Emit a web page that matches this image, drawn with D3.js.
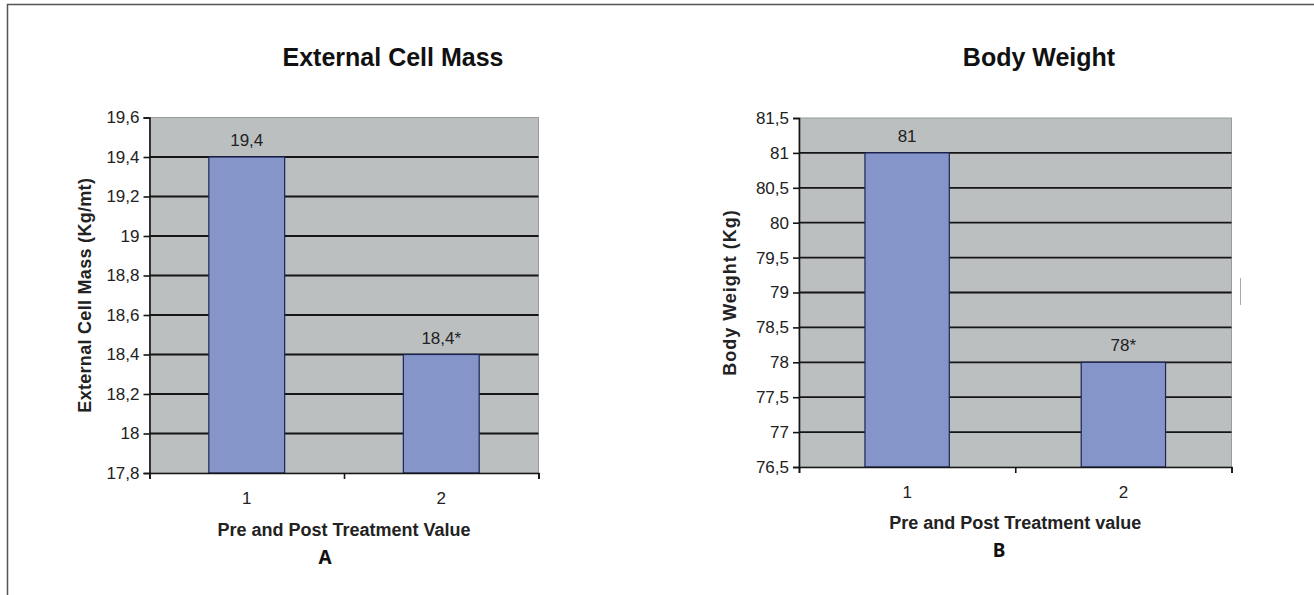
<!DOCTYPE html>
<html>
<head>
<meta charset="utf-8">
<script src="https://cdn.jsdelivr.net/npm/d3@7"></script>
<style>
    body { margin: 0; background: #fff; }
    svg text { font-family: "Liberation Sans", Arial, sans-serif; }
</style>
</head>
<body>
<div id="chart"></div>
<script>
    // Data
    const categories = ["1", "2"];

    const cellMassValues = [19.4, 18.4];
    const cellMassLabels = ["19,4", "18,4*"];
    const cellMassTicks = [17.8, 18, 18.2, 18.4, 18.6, 18.8, 19, 19.2, 19.4, 19.6];

    const weightValues = [81, 78];
    const weightLabels = ["81", "78*"];
    const weightTicks = [76.5, 77, 77.5, 78, 78.5, 79, 79.5, 80, 80.5, 81, 81.5];

    const width = 1314, height = 595;

    const svg = d3.select("#chart")
        .append("svg")
        .attr("width", width)
        .attr("height", height);

    // outer frame (left and top edges only)
    svg.append("path")
        .attr("d", "M7.5,595V4.5H1314")
        .attr("fill", "none")
        .attr("stroke", "#555")
        .attr("stroke-width", 1.5);

    // small stray mark at the right
    svg.append("line")
        .attr("x1", 1240.5).attr("x2", 1240.5)
        .attr("y1", 278).attr("y2", 305)
        .attr("stroke", "#aaa");

    // comma decimal separator
    const fmt = d => String(d).replace(".", ",");

    function drawChart(opt) {
        const g = svg.append("g");

        const y = d3.scaleLinear()
            .domain(d3.extent(opt.ticks))
            .range([opt.bottom, opt.top]);

        const x = d3.scaleBand()
            .domain(categories)
            .range([opt.left, opt.right])
            .paddingInner(0.61)
            .paddingOuter(0.305);

        // x tick positions at category boundaries
        const xEdge = d3.scaleLinear()
            .domain([0, categories.length])
            .range([opt.left, opt.right]);

        // plot background
        g.append("rect")
            .attr("x", opt.left)
            .attr("y", opt.top)
            .attr("width", opt.right - opt.left)
            .attr("height", opt.bottom - opt.top)
            .attr("fill", "#bbbfc0")
            .attr("stroke", "#9a9d9e")
            .attr("stroke-width", 1);

        // gridlines
        g.selectAll(".grid")
            .data(opt.ticks.slice(1, -1))
            .join("line")
            .attr("x1", opt.left)
            .attr("x2", opt.right)
            .attr("y1", d => y(d))
            .attr("y2", d => y(d))
            .attr("stroke", "#151515")
            .attr("stroke-width", 1.8);

        // bars
        g.selectAll(".bar")
            .data(opt.values)
            .join("rect")
            .attr("x", (d, i) => x(categories[i]))
            .attr("y", d => y(d))
            .attr("width", x.bandwidth())
            .attr("height", d => opt.bottom - y(d))
            .attr("fill", "#8595c9")
            .attr("stroke", "#1c2556")
            .attr("stroke-width", 1.2);

        // value labels
        g.selectAll(".val")
            .data(opt.values)
            .join("text")
            .attr("x", (d, i) => x(categories[i]) + x.bandwidth() / 2)
            .attr("y", d => y(d) - 11)
            .attr("text-anchor", "middle")
            .attr("font-size", 17)
            .attr("fill", "#222")
            .text((d, i) => opt.labels[i]);

        // y axis
        const yAxis = g.append("g")
            .attr("transform", "translate(" + opt.left + ",0)")
            .call(d3.axisLeft(y).tickValues(opt.ticks).tickFormat(fmt).tickSize(6).tickPadding(4));
        yAxis.selectAll("text").attr("font-size", 17).attr("fill", "#222");
        yAxis.selectAll("line, path").attr("stroke", "#151515").attr("stroke-width", 1.6);

        // x axis
        const xAxis = g.append("g")
            .attr("transform", "translate(0," + opt.bottom + ")")
            .call(d3.axisBottom(xEdge).tickValues(d3.range(categories.length + 1)).tickFormat("").tickSize(6).tickSizeOuter(6));
        xAxis.selectAll("line, path").attr("stroke", "#151515").attr("stroke-width", 1.6);

        g.selectAll(".cat")
            .data(categories)
            .join("text")
            .attr("x", d => x(d) + x.bandwidth() / 2)
            .attr("y", opt.bottom + 31)
            .attr("text-anchor", "middle")
            .attr("font-size", 17)
            .attr("fill", "#222")
            .text(d => d);

        const cx = (opt.left + opt.right) / 2;

        // chart title
        g.append("text")
            .attr("x", opt.titleX)
            .attr("y", 66)
            .attr("text-anchor", "middle")
            .attr("font-size", 25)
            .attr("font-weight", "bold")
            .attr("fill", "#111")
            .text(opt.title);

        // axis titles
        g.append("text")
            .attr("x", cx)
            .attr("y", opt.bottom + opt.xTitleGap)
            .attr("text-anchor", "middle")
            .attr("font-size", 18)
            .attr("font-weight", "bold")
            .attr("fill", "#222")
            .text(opt.xTitle);

        g.append("text")
            .attr("transform", "translate(" + opt.yTitleX + "," + (opt.top + opt.bottom) / 2 + ") rotate(-90)")
            .attr("text-anchor", "middle")
            .attr("font-size", 18)
            .attr("font-weight", "bold")
            .attr("letter-spacing", opt.yTitleSpacing)
            .attr("fill", "#222")
            .text(opt.yTitle);

        // panel letter
        g.append("text")
            .attr("x", opt.letterX)
            .attr("y", opt.bottom + opt.xTitleGap + 28)
            .attr("text-anchor", "middle")
            .attr("font-size", 19)
            .attr("font-weight", "bold")
            .style("font-family", "'Noto Sans', sans-serif")
            .attr("fill", "#111")
            .text(opt.letter);
    }

    drawChart({
        values: cellMassValues, labels: cellMassLabels, ticks: cellMassTicks,
        left: 149.5, right: 538.5, top: 117.5, bottom: 473,
        title: "External Cell Mass", titleX: 393,
        xTitle: "Pre and Post Treatment Value", xTitleGap: 63,
        yTitle: "External Cell Mass (Kg/mt)", yTitleX: 91, yTitleSpacing: 0.3,
        letter: "A", letterX: 325
    });

    drawChart({
        values: weightValues, labels: weightLabels, ticks: weightTicks,
        left: 799, right: 1231.5, top: 118, bottom: 467,
        title: "Body Weight", titleX: 1039,
        xTitle: "Pre and Post Treatment value", xTitleGap: 62,
        yTitle: "Body Weight (Kg)", yTitleX: 736, yTitleSpacing: 1,
        letter: "B", letterX: 999
    });
</script>
</body>
</html>
